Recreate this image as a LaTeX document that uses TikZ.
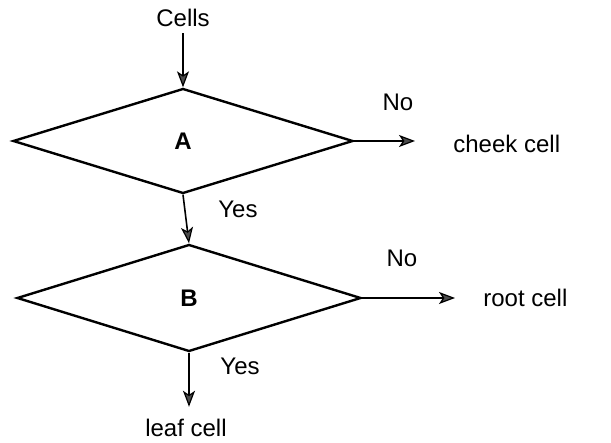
\documentclass[tikz,border=0pt]{standalone}
\usepackage{fontspec}
\setmainfont{Liberation Sans}
\usetikzlibrary{shapes.geometric,arrows.meta}
\tikzset{
  decision/.style={diamond, draw=black, line width=1.2pt, inner sep=0pt, font=\fontsize{12}{14}\selectfont\bfseries},
  flow/.style={draw=black, line width=0.8pt, -{Stealth[length=8pt,width=6pt,inset=2pt,color=black,fill=gray!60!black,line width=0.6pt]}},
  lab/.style={inner sep=0pt, font=\fontsize{12}{14}\selectfont},
}

\begin{document}
\begin{tikzpicture}[x=0.5pt,y=-0.5pt]
  \useasboundingbox (0,0) rectangle (611,443);
  % decisions
  \node[decision, minimum width=170pt, minimum height=52.5pt] (A) at (183,141) {A};
  \node[decision, minimum width=172pt, minimum height=53.5pt] (B) at (189,298) {B};
  % labels
  \node[lab] (cells) at (183,18) {Cells};
  \node[lab, anchor=west] (cheek) at (453,144) {cheek cell};
  \node[lab, anchor=west] (root) at (483,298) {root cell};
  \node[lab] (leaf) at (186,428) {leaf cell};
  \node[lab] (noA) at (398,102) {No};
  \node[lab] (noB) at (402,258) {No};
  \node[lab] (yesA) at (238,209) {Yes};
  \node[lab] (yesB) at (240,366) {Yes};
  % connectors
  \draw[flow, shorten <=3pt] (cells.south) -- (A.north);
  \draw[flow] (A.south) -- (B.north);
  \draw[flow, shorten >=19pt] (A.east) -- (A.east -| cheek.west);
  \draw[flow, shorten >=14pt] (B.east) -- (B.east -| root.west);
  \draw[flow, shorten >=6pt] (B.south) -- (B.south |- leaf.north);
\end{tikzpicture}
\end{document}
